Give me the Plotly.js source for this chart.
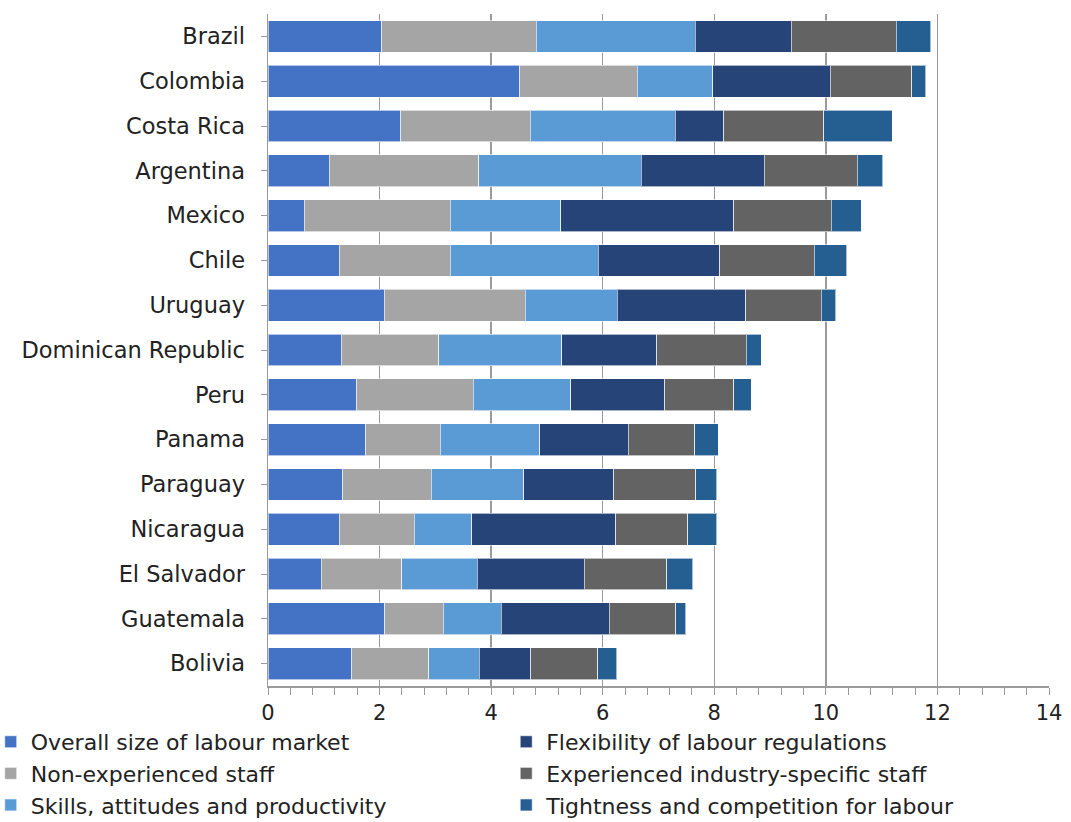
<!DOCTYPE html>
<html>
<head>
<meta charset="utf-8">
<script src="https://cdn.plot.ly/plotly-3.0.1.min.js"></script>
<style>html,body{margin:0;padding:0;background:#fff;}#chart{width:1071px;height:822px;}</style>
</head>
<body>
<div id="chart"></div>
<script>
const countries = ["Brazil","Colombia","Costa Rica","Argentina","Mexico","Chile","Uruguay","Dominican Republic","Peru","Panama","Paraguay","Nicaragua","El Salvador","Guatemala","Bolivia"];
const overallSize   = [2.04, 4.51, 2.38, 1.10, 0.65, 1.28, 2.08, 1.31, 1.59, 1.75, 1.34, 1.28, 0.95, 2.09, 1.50];
const nonExperienced= [2.77, 2.11, 2.32, 2.68, 2.62, 1.99, 2.53, 1.75, 2.09, 1.34, 1.59, 1.34, 1.45, 1.05, 1.38];
const skills        = [2.85, 1.35, 2.60, 2.91, 1.98, 2.65, 1.65, 2.21, 1.75, 1.78, 1.65, 1.03, 1.35, 1.04, 0.91];
const flexibility   = [1.72, 2.11, 0.87, 2.21, 3.10, 2.18, 2.30, 1.70, 1.68, 1.59, 1.62, 2.58, 1.92, 1.94, 0.92];
const experienced   = [1.88, 1.46, 1.79, 1.66, 1.75, 1.69, 1.36, 1.60, 1.24, 1.19, 1.47, 1.29, 1.48, 1.19, 1.20];
const tightness     = [0.62, 0.25, 1.23, 0.46, 0.53, 0.58, 0.26, 0.27, 0.31, 0.42, 0.37, 0.52, 0.46, 0.18, 0.34];
const seriesNames = ["Overall size of labour market","Non-experienced staff","Skills, attitudes and productivity","Flexibility of labour regulations","Experienced industry-specific staff","Tightness and competition for labour"];
const xTickVals = [0,2,4,6,8,10,12,14];

const series = [overallSize, nonExperienced, skills, flexibility, experienced, tightness];
const colors = ["#4472C4","#A5A5A5","#5B9BD5","#264478","#636363","#255E91"];
const legendIds = ["legend","legend","legend","legend2","legend2","legend2"];

const traces = series.map((vals, i) => ({
  type: "bar",
  orientation: "h",
  name: seriesNames[i],
  y: countries,
  x: vals,
  marker: {color: colors[i], line: {color: "rgba(255,255,255,0.6)", width: 1}},
  legend: legendIds[i],
  hoverinfo: "x+name"
}));

const font = "'DejaVu Sans', sans-serif";
const legendCommon = {
  orientation: "v",
  traceorder: "normal",
  yanchor: "top", xanchor: "left",
  font: {size: 22, family: font, color: "#222"},
  itemwidth: 30,
  bgcolor: "rgba(0,0,0,0)",
  tracegroupgap: 0
};
const layout = {
  width: 1071, height: 822,
  margin: {l: 268, r: 22, t: 14, b: 136, autoexpand: false},
  barmode: "stack",
  bargap: 0.29,
  paper_bgcolor: "#fff",
  plot_bgcolor: "#fff",
  font: {family: font, color: "#222", size: 20},
  xaxis: {
    range: [0, 14],
    tickvals: xTickVals,
    ticktext: xTickVals.map(String),
    showgrid: true, gridcolor: "#9a9a9a", gridwidth: 1.5,
    showline: true, linecolor: "#9a9a9a", linewidth: 1.5,
    ticks: "outside", ticklen: 7, tickcolor: "#9a9a9a",
    minor: {dtick: 0.4, ticks: "outside", ticklen: 7, tickcolor: "#9a9a9a", showgrid: false},
    tickfont: {size: 21, family: font, color: "#222"},
    zeroline: false, fixedrange: true
  },
  yaxis: {
    autorange: "reversed",
    showline: true, linecolor: "#9a9a9a", linewidth: 1.5,
    ticks: "outside", ticklen: 6, tickcolor: "#9a9a9a",
    ticklabelstandoff: 11,
    tickfont: {size: 22.5, family: font, color: "#222"},
    showgrid: false, fixedrange: true
  },
  legend: Object.assign({}, legendCommon, {x: -0.355, y: -0.052}),
  legend2: Object.assign({}, legendCommon, {x: 0.305, y: -0.052}),
  showlegend: true
};

Plotly.newPlot("chart", traces, layout, {displayModeBar: false, staticPlot: true});
</script>
</body>
</html>
